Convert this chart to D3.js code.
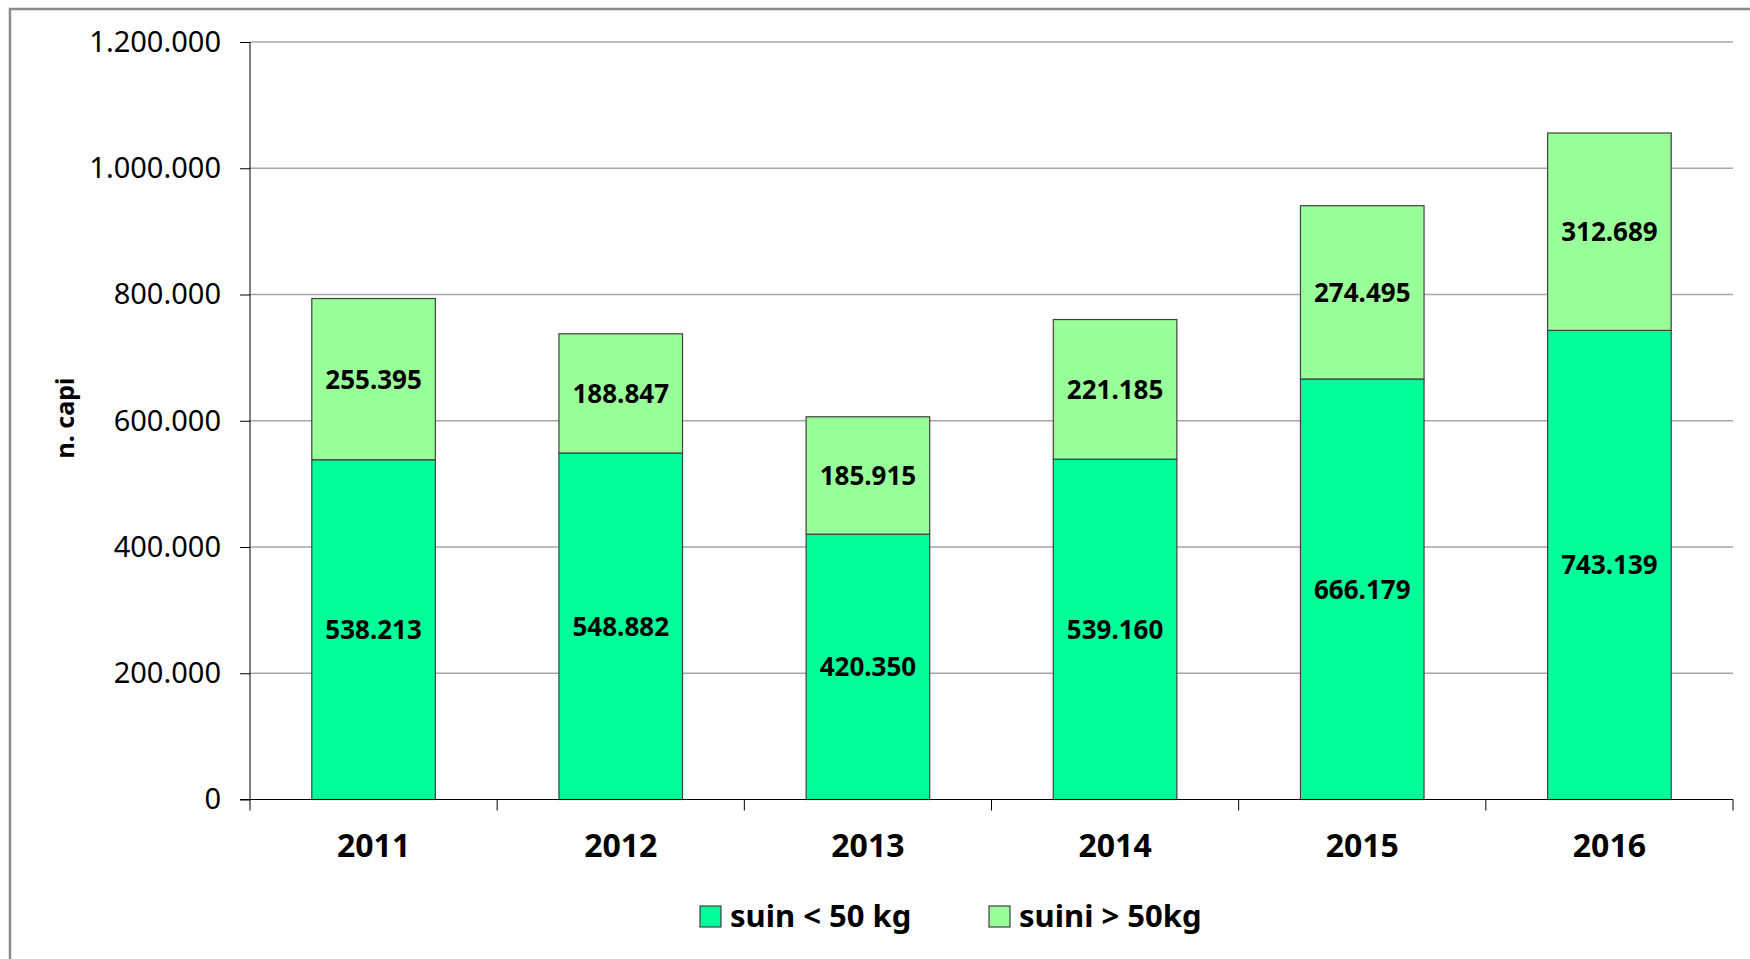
<!DOCTYPE html>
<html>
<head>
<meta charset="utf-8">
<script src="https://cdn.jsdelivr.net/npm/d3@7"></script>
<style>
  body { margin: 0; background: #fff; }
  svg { display: block; font-family: "Noto Sans", "Open Sans", sans-serif; }
</style>
</head>
<body>
<div id="chart"></div>
<script>
const years = ["2011", "2012", "2013", "2014", "2015", "2016"];
const suiniSotto50 = [538213, 548882, 420350, 539160, 666179, 743139];
const suiniSopra50 = [255395, 188847, 185915, 221185, 274495, 312689];
const seriesNames = ["suin < 50 kg", "suini > 50kg"];
const seriesColours = ["#00ff99", "#99ff99"];
const yTicks = [0, 200000, 400000, 600000, 800000, 1000000, 1200000];

const W = 1750, H = 959;
const margin = { top: 42, right: 17, bottom: 159.5, left: 250 },
    width = W - margin.left - margin.right,
    height = H - margin.top - margin.bottom;

const fmt = v => d3.format(",")(v).replace(/,/g, ".");

const rows = years.map((y, i) => ({ year: y, low: suiniSotto50[i], high: suiniSopra50[i] }));
const stack = d3.stack().keys(["low", "high"])(rows);

const svg = d3.select("#chart")
    .append("svg")
        .attr("width", W)
        .attr("height", H);

// outer frame (only left and top edges visible)
svg.append("path")
    .attr("d", `M10,${H + 5}V9H${W + 5}`)
    .attr("fill", "none")
    .attr("stroke", "#8c8c8c")
    .attr("stroke-width", 2.5);

const g = svg.append("g")
    .attr("transform", `translate(${margin.left},${margin.top})`);

const x = d3.scaleBand()
    .domain(years)
    .range([0, width])
    .paddingInner(0.5)
    .paddingOuter(0.25);

const y = d3.scaleLinear()
    .domain([0, 1200000])
    .range([height, 0]);

// gridlines
g.append("g")
    .selectAll("line")
    .data(yTicks.filter(d => d > 0))
    .enter().append("line")
        .attr("x1", 0)
        .attr("x2", width)
        .attr("y1", d => y(d))
        .attr("y2", d => y(d))
        .attr("stroke", "#a6a6a6")
        .attr("stroke-width", 1.3);

// bars
const layers = g.selectAll(".layer")
    .data(stack)
    .enter().append("g")
        .attr("class", "layer")
        .attr("fill", (d, i) => seriesColours[i]);

layers.selectAll("rect")
    .data(d => d)
    .enter().append("rect")
        .attr("x", d => x(d.data.year))
        .attr("y", d => y(d[1]))
        .attr("width", x.bandwidth())
        .attr("height", d => y(d[0]) - y(d[1]))
        .attr("stroke", "#404040")
        .attr("stroke-width", 1.2);

layers.selectAll("text")
    .data(d => d)
    .enter().append("text")
        .attr("x", d => x(d.data.year) + x.bandwidth() / 2)
        .attr("y", d => y((d[0] + d[1]) / 2))
        .attr("dy", "0.36em")
        .attr("text-anchor", "middle")
        .attr("fill", "#000")
        .style("font-size", "26px")
        .style("font-weight", "bold")
        .text(d => fmt(d[1] - d[0]));

// y axis
const yAxisGroup = g.append("g")
    .call(d3.axisLeft(y).tickValues(yTicks).tickFormat(fmt).tickSize(10).tickPadding(19));
yAxisGroup.select(".domain").attr("d", `M0,${height}V0`).attr("stroke", "#000");
yAxisGroup.selectAll("line").attr("stroke", "#000");
yAxisGroup.selectAll("text")
    .style("font-size", "29px")
    .style("font-family", "'Noto Sans', sans-serif")
    .attr("fill", "#000");

// x axis
const xAxisGroup = g.append("g")
    .attr("transform", `translate(0,${height})`);
xAxisGroup.append("line")
    .attr("x1", -10).attr("x2", width)
    .attr("stroke", "#000");
xAxisGroup.selectAll(".tick")
    .data(d3.range(years.length + 1))
    .enter().append("line")
        .attr("class", "tick")
        .attr("x1", i => i * x.step())
        .attr("x2", i => i * x.step())
        .attr("y1", 0)
        .attr("y2", 11)
        .attr("stroke", "#000");
xAxisGroup.selectAll(".label")
    .data(years)
    .enter().append("text")
        .attr("class", "label")
        .attr("x", d => x(d) + x.bandwidth() / 2)
        .attr("y", 57.5)
        .attr("text-anchor", "middle")
        .style("font-size", "32px")
        .style("font-weight", "bold")
        .text(d => d);

// y axis title
svg.append("text")
    .attr("transform", "translate(74,418) rotate(-90)")
    .attr("text-anchor", "middle")
    .style("font-size", "25px")
    .style("font-weight", "bold")
    .text("n. capi");

// legend
const legendData = [
    { label: seriesNames[0], color: seriesColours[0], x: 700 },
    { label: seriesNames[1], color: seriesColours[1], x: 989 }
];
const legend = svg.selectAll(".legend")
    .data(legendData)
    .enter().append("g")
    .attr("class", "legend")
    .attr("transform", d => `translate(${d.x},906)`);

legend.append("rect")
    .attr("width", 21)
    .attr("height", 21)
    .attr("fill", d => d.color)
    .attr("stroke", "#404040")
    .attr("stroke-width", 1.2);

legend.append("text")
    .attr("x", 30)
    .attr("y", 21)
    .style("font-size", "31px")
    .style("font-weight", "bold")
    .text(d => d.label);
</script>
</body>
</html>
